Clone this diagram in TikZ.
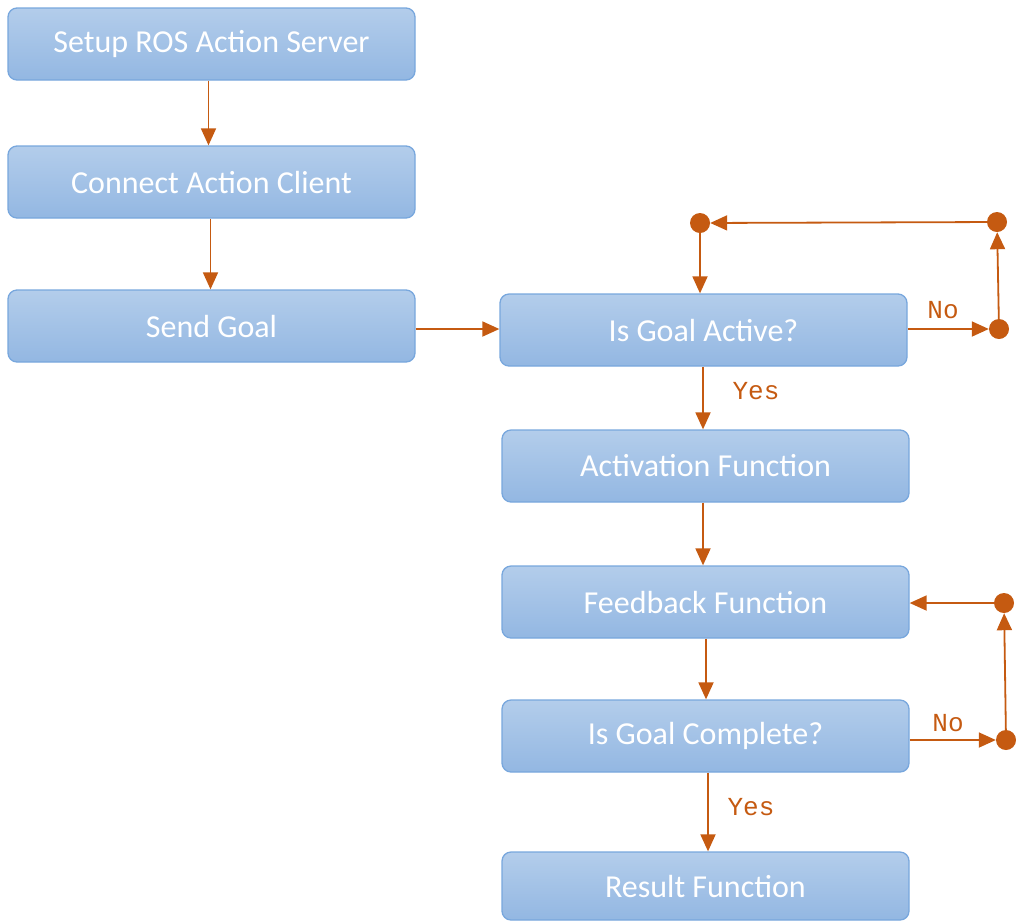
\documentclass[tikz,border=0pt]{standalone}
\usepackage{fontspec}
\setmainfont{Carlito}
\newfontfamily\labfont{Liberation Mono}
\usetikzlibrary{arrows.meta}
\definecolor{boxtop}{HTML}{B3CDEB}
\definecolor{boxbot}{HTML}{93B7E2}
\definecolor{boxline}{HTML}{78A7DD}
\definecolor{arr}{HTML}{C55A11}
\tikzset{
  stepbox/.style={rectangle, rounded corners=9pt, draw=boxline, line width=1.3pt,
    top color=boxtop, bottom color=boxbot, minimum width=407pt, minimum height=72pt,
    inner sep=0pt, text=white, font=\fontsize{32}{36}\selectfont},
  dotnode/.style={circle, fill=arr, draw=none, minimum size=20pt, inner sep=0pt},
  flow/.style={draw=arr, line width=1.8pt, -{Triangle[length=17pt,width=15pt]}},
  lab/.style={text=arr, font=\labfont\fontsize{26}{28}\selectfont, inner sep=0pt}
}
\begin{document}
\begin{tikzpicture}[x=1pt,y=-1pt]
\useasboundingbox (0,0) rectangle (1016,922);
\node[stepbox] (b1) at (211.5,44) {Setup ROS Action Server};
\node[stepbox] (b2) at (211.5,182) {Connect Action Client};
\node[stepbox] (b3) at (211.5,326) {Send Goal};
\node[stepbox] (b4) at (703.5,330) {Is Goal Active?};
\node[stepbox] (b5) at (705.5,466) {Activation Function};
\node[stepbox] (b6) at (705.5,602) {Feedback Function};
\node[stepbox] (b7) at (705.5,736) {Is Goal Complete?};
\node[stepbox, minimum height=68pt] (b8) at (705.5,886) {Result Function};

\node[dotnode] (d1) at (700,223) {};
\node[dotnode] (d2) at (997,222) {};
\node[dotnode] (d3) at (999,329) {};
\node[dotnode] (d4) at (1004,603) {};
\node[dotnode] (d5) at (1006,740) {};

\draw[flow] ([xshift=-3pt]b1.south) -- ([xshift=-3pt]b2.north);
\draw[flow] ([xshift=-1pt]b2.south) -- ([xshift=-1pt]b3.north);
\draw[flow] ([yshift=-3pt]b3.east) -- ([yshift=1pt]b4.west);
\draw[flow] (d1) -- ([xshift=-3.5pt]b4.north);
\draw[flow] ([yshift=1pt]b4.east) -- (d3);
\draw[flow] (d3) -- (d2);
\draw[flow] (d2) -- (d1);
\draw[flow] ([xshift=-0.5pt]b4.south) -- ([xshift=-2.5pt]b5.north);
\draw[flow] ([xshift=-2.5pt]b5.south) -- ([xshift=-2.5pt]b6.north);
\draw[flow] ([xshift=0.5pt]b6.south) -- ([xshift=0.5pt]b7.north);
\draw[flow] ([yshift=-4pt]b7.east) -- (d5);
\draw[flow] (d5) -- (d4);
\draw[flow] (d4) -- ([yshift=-1pt]b6.east);
\draw[flow] ([xshift=2.5pt]b7.south) -- ([xshift=2.5pt]b8.north);

\node[lab] (l1) at (943,310) {No};
\node[lab] (l2) at (756,391) {Yes};
\node[lab] (l3) at (948,723) {No};
\node[lab] (l4) at (751,807) {Yes};
\end{tikzpicture}
\end{document}
